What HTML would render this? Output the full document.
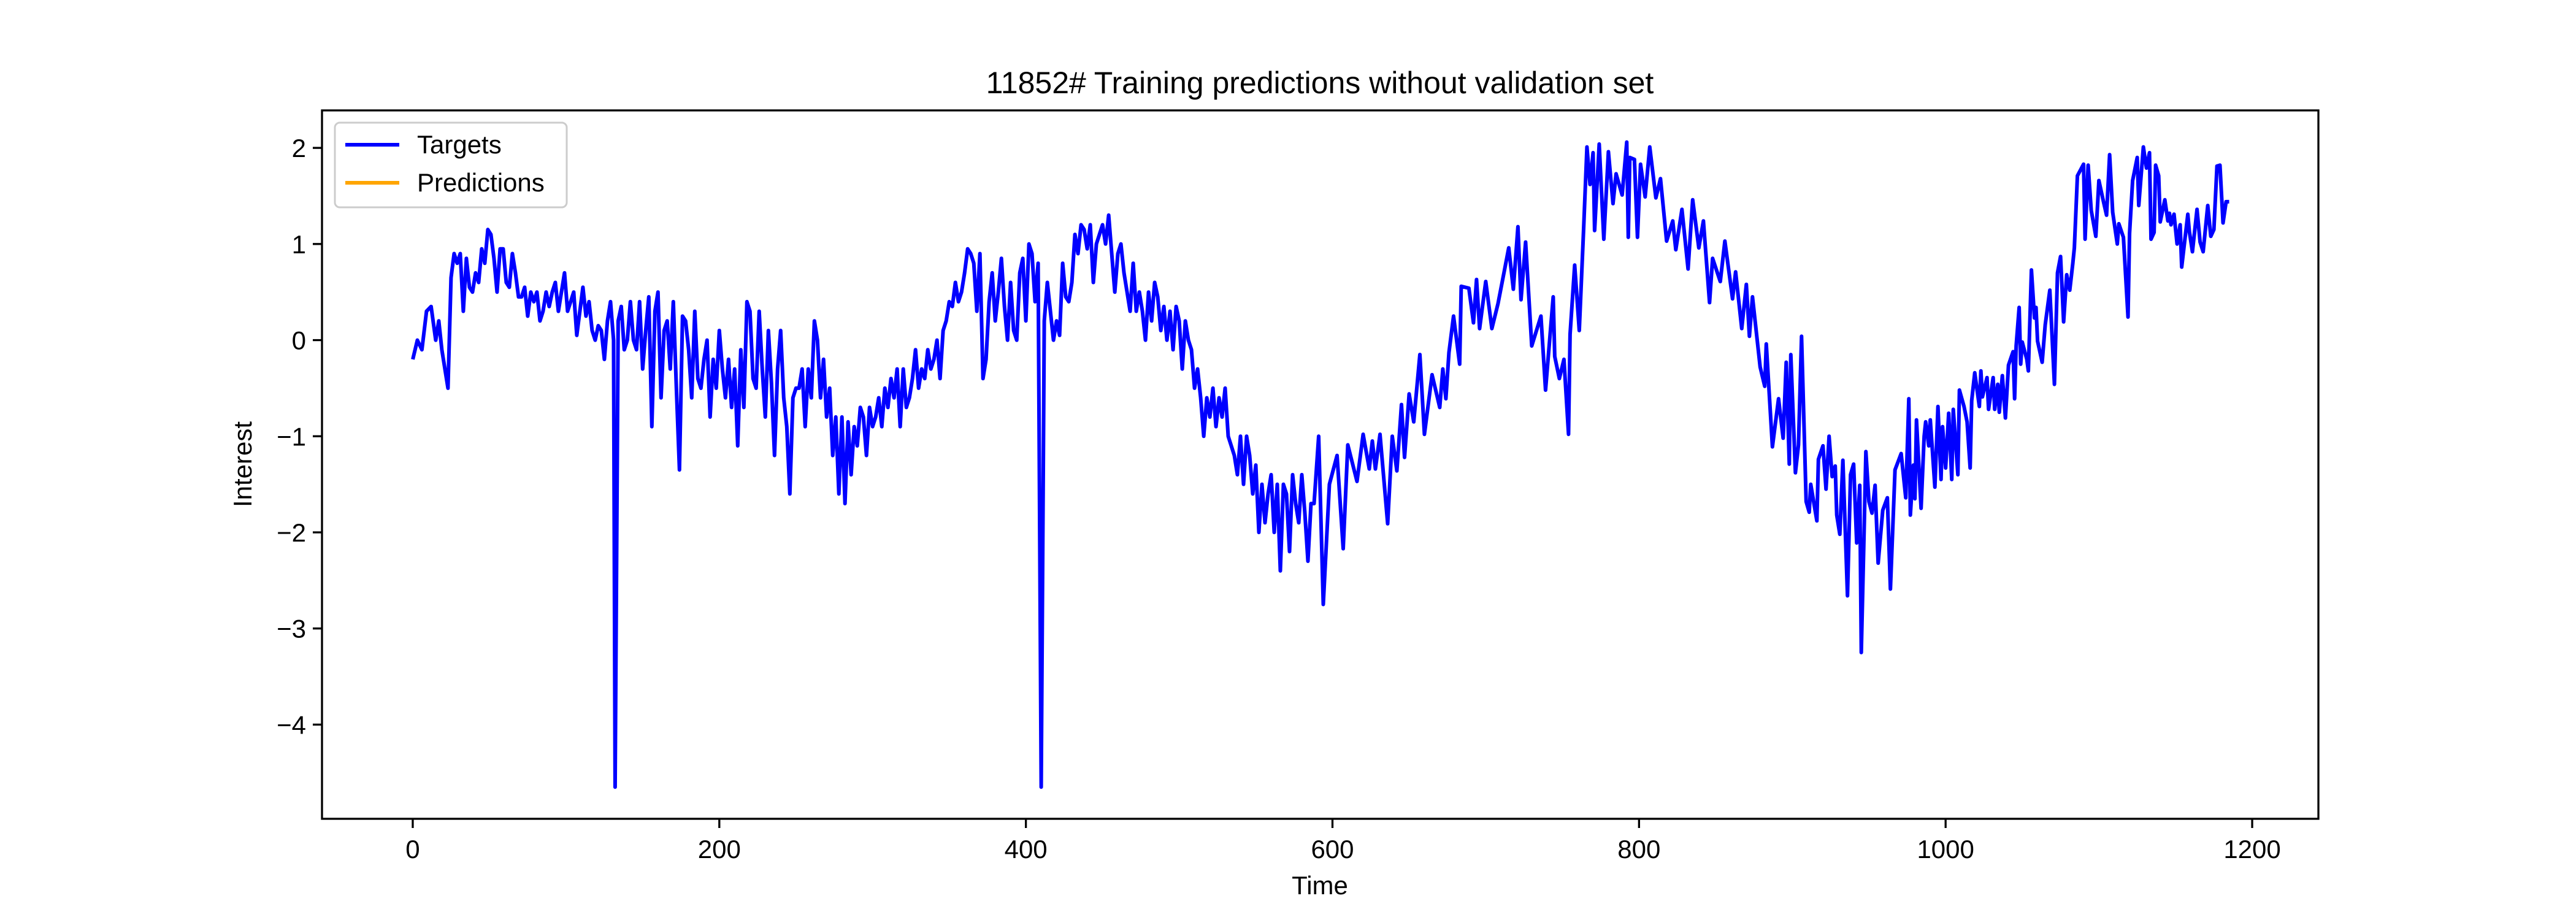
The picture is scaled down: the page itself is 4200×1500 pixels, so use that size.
<!DOCTYPE html>
<html><head><meta charset="utf-8"><style>
html,body{margin:0;padding:0;background:#fff;}
svg{display:block;font-family:"Liberation Sans","DejaVu Sans",sans-serif;}
</style></head><body>
<svg id="chart" width="4200" height="1500" viewBox="0 0 4200 1500" xmlns="http://www.w3.org/2000/svg">
<rect width="4200" height="1500" fill="#fff"/>
<text x="2152" y="152" text-anchor="middle" font-size="50" fill="#000">11852# Training predictions without validation set</text>
<g id="plot"></g>
<g id="axes"></g>
<text x="2152" y="1458" text-anchor="middle" font-size="42">Time</text>
<text transform="translate(410,757) rotate(-90)" text-anchor="middle" font-size="42">Interest</text>
<g>
<rect x="546" y="200" width="378" height="138" rx="8" fill="#fff" fill-opacity="0.8" stroke="#ccc" stroke-width="3"/>
<line x1="563" y1="236" x2="651" y2="236" stroke="#0000ff" stroke-width="6"/>
<text x="680" y="250" font-size="42">Targets</text>
<line x1="563" y1="298" x2="651" y2="298" stroke="#ffa500" stroke-width="6"/>
<text x="680" y="312" font-size="42">Predictions</text>
</g>
</svg>
<script>
const times=[0,3,6,9,12,15,17,19,21,23,25,27,29,31,33,35,37,39,41,43,45,47,49,51,53,55,57,59,61,63,65,67,69,71,73,75,77,79,81,83,85,87,89,91,93,95,97,99,101,103,105,107,109,111,113,115,117,119,121,123,125,127,129,131,132,134,136,138,140,142,144,146,148,150,152,154,156,158,160,162,164,166,168,170,172,174,176,178,180,182,184,186,188,190,192,194,196,198,200,202,204,206,208,210,212,214,216,218,220,222,224,226,228,230,232,234,236,238,240,242,244,246,248,250,252,254,256,258,260,262,264,266,268,270,272,274,276,278,280,282,284,286,288,290,292,294,296,298,300,302,304,306,308,310,312,314,316,318,320,322,324,326,328,330,332,334,336,338,340,342,344,346,348,350,352,354,356,358,360,362,364,366,368,370,372,374,376,378,380,382,384,386,388,390,392,394,396,398,400,402,404,406,408,410,412,414,416,418,420,422,424,426,428,430,432,434,436,438,440,442,444,446,448,450,452,454,456,458,460,462,464,466,468,470,472,474,476,478,480,482,484,486,488,490,492,494,496,498,500,502,504,506,508,510,512,514,516,518,520,522,524,526,528,530,532,534,536,538,540,542,544,546,548,550,552,554,556,558,560,562,564,566,568,570,572,574,576,578,580,582,584,586,588,
591,594,598,603,607,610,616,620,624,626,628,631,636,639,642,645,647,650,653,657,660,665,670,672,674,676,679,683,684,689,692,694,696,700,704,708,712,715,718,721,723,726,730,736,739,744,745,748,751,754,755,758,761,764,766,768,770,771,774,777,780,783,785,789,792,793,794,797,799,801,804,807,811,814,818,822,824,828,832,835,839,842,846,848,853,856,861,863,867,870,872,874,879,882,883,887,891,894,896,898,899,902,904,906,909,911,912,916,917,920,922,924,926,928,929,931,933,936,938,940,942,944,945,947,948,950,952,954,956,959,962,964,967,971,974,976,977,979,980,981,984,986,987,989,990,993,995,997,998,1000,1002,1004,1005,1008,1009,1012,1014,1016,1017,1019,1022,1023,1024,1027,1028,1031,1032,1034,1035,1037,1039,1041,1044,1045,1046,1048,1049,1050,1053,1054,1056,1058,1059,1060,1063,1065,1068,1071,1073,1075,1077,1079,1081,1083,1084,1086,1090,1091,1093,1095,1098,1100,1103,1105,1107,1109,1112,1113,1116,1119,1120,1122,1125,1126,1129,1131,1133,1134,1136,1137,1139,1140,1143,1145,1146,1147,1149,1151,1153,1154,1158,1159,1161,1164,1166,1168,1171,1173,1175,1177,1179,1181,1183,1185];
const targets=[-0.2,0.0,-0.1,0.3,0.35,0.0,0.2,-0.1,-0.3,-0.5,0.65,0.9,0.8,0.9,0.3,0.85,0.55,0.5,0.7,0.6,0.95,0.8,1.15,1.1,0.85,0.5,0.95,0.95,0.6,0.55,0.9,0.7,0.45,0.45,0.55,0.25,0.5,0.4,0.5,0.2,0.3,0.5,0.35,0.5,0.6,0.3,0.5,0.7,0.3,0.4,0.5,0.05,0.3,0.55,0.25,0.4,0.1,0.0,0.15,0.1,-0.2,0.2,0.4,0.0,-4.65,0.2,0.35,-0.1,0.0,0.4,0.0,-0.1,0.4,-0.3,0.1,0.45,-0.9,0.3,0.5,-0.6,0.1,0.2,-0.3,0.4,-0.5,-1.35,0.25,0.2,-0.1,-0.6,0.3,-0.4,-0.5,-0.2,0.0,-0.8,-0.2,-0.5,0.1,-0.3,-0.6,-0.2,-0.7,-0.3,-1.1,-0.1,-0.7,0.4,0.3,-0.4,-0.5,0.3,-0.3,-0.8,0.1,-0.45,-1.2,-0.3,0.1,-0.6,-0.9,-1.6,-0.6,-0.5,-0.5,-0.3,-0.9,-0.3,-0.6,0.2,0.0,-0.6,-0.2,-0.8,-0.5,-1.2,-0.8,-1.6,-0.8,-1.7,-0.85,-1.4,-0.9,-1.1,-0.7,-0.8,-1.2,-0.7,-0.9,-0.8,-0.6,-0.9,-0.5,-0.7,-0.4,-0.6,-0.3,-0.9,-0.3,-0.7,-0.6,-0.4,-0.1,-0.5,-0.3,-0.4,-0.1,-0.3,-0.2,0.0,-0.4,0.1,0.2,0.4,0.35,0.6,0.4,0.5,0.7,0.95,0.9,0.8,0.3,0.9,-0.4,-0.2,0.4,0.7,0.2,0.5,0.85,0.35,0.0,0.6,0.1,0.0,0.7,0.85,0.2,1.0,0.9,0.4,0.8,-4.65,0.2,0.6,0.3,0.0,0.2,0.05,0.8,0.45,0.4,0.6,1.1,0.9,1.2,1.15,0.95,1.2,0.6,1.0,1.1,1.2,1.0,1.3,0.9,0.5,0.9,1.0,0.7,0.5,0.3,0.8,0.3,0.5,0.3,0.0,0.5,0.2,0.6,0.45,0.1,0.35,0.0,0.3,-0.1,0.35,0.2,-0.3,0.2,0.0,-0.1,-0.5,-0.3,-0.6,-1.0,-0.6,-0.8,-0.5,-0.9,-0.6,-0.8,-0.5,-1.0,-1.1,-1.2,-1.4,-1.0,-1.5,-1.0,-1.2,-1.6,-1.3,-2.0,-1.5,-1.9,-1.6,-1.4,-2.0,-1.5,-2.4,-1.5,-1.6,-2.2,-1.4,-1.7,-1.9,-1.4,-1.8,-2.3,-1.7,-1.7,
-1.0,-2.75,-1.5,-1.2,-2.17,-1.09,-1.47,-0.98,-1.34,-1.05,-1.34,-0.98,-1.91,-1.0,-1.36,-0.67,-1.22,-0.56,-0.85,-0.15,-0.98,-0.36,-0.70,-0.30,-0.61,-0.13,0.25,-0.25,0.56,0.54,0.18,0.63,0.12,0.61,0.12,0.38,0.71,0.96,0.53,1.18,0.42,1.02,-0.06,0.25,-0.52,0.45,-0.17,-0.4,-0.2,-0.98,0.06,0.78,0.10,1.22,2.01,1.62,1.95,1.14,2.04,1.05,1.96,1.42,1.73,1.51,2.06,1.07,1.9,1.88,1.07,1.83,1.49,2.01,1.48,1.68,1.03,1.24,0.94,1.36,0.74,1.46,0.96,1.24,0.39,0.85,0.61,1.03,0.43,0.71,0.12,0.58,0.04,0.45,-0.28,-0.48,-0.04,-1.11,-0.61,-1.02,-0.23,-1.29,-0.15,-1.38,-1.09,0.04,-1.68,-1.79,-1.5,-1.88,-1.24,-1.1,-1.55,-1.0,-1.42,-1.31,-1.82,-2.02,-1.25,-2.66,-1.40,-1.29,-2.11,-1.51,-3.25,-1.88,-1.16,-1.68,-1.80,-1.51,-2.32,-1.77,-1.64,-2.59,-1.35,-1.18,-1.64,-0.61,-1.82,-1.3,-1.65,-0.83,-1.75,-1.0,-0.85,-1.1,-0.83,-1.53,-0.69,-1.45,-0.9,-1.33,-0.76,-1.45,-0.72,-1.40,-0.52,-0.69,-0.85,-1.33,-0.63,-0.34,-0.69,-0.32,-0.59,-0.39,-0.72,-0.39,-0.72,-0.46,-0.75,-0.37,-0.81,-0.26,-0.12,-0.61,-0.06,0.34,-0.25,-0.02,-0.2,-0.32,0.73,0.23,0.34,-0.01,-0.23,0.16,0.52,-0.46,0.70,0.87,0.19,0.68,0.52,0.80,0.96,1.71,1.83,1.05,1.82,1.35,1.08,1.66,1.44,1.30,1.93,1.33,1.0,1.21,1.07,0.24,1.11,1.66,1.90,1.40,2.01,1.79,1.95,1.05,1.12,1.82,1.71,1.23,1.46,1.24,1.32,1.2,1.31,1.0,1.2,0.76,1.31,1.13,0.92,1.36,1.02,0.92,1.40,1.08,1.15,1.81,1.82,1.22,1.44,1.44];
const xTicks=[0,200,400,600,800,1000,1200];
const yTicks=[-4,-3,-2,-1,0,1,2];
const yTickLabels=["\u22124","\u22123","\u22122","\u22121","0","1","2"];

const L=525,R=3780,T=180,B=1335;
const xMin=-59.2,xMax=1243.2,yMin=-4.98,yMax=2.39;
function xs(v){return L+(v-xMin)/(xMax-xMin)*(R-L);}
function ys(v){return B-(v-yMin)/(yMax-yMin)*(B-T);}
const NS="http://www.w3.org/2000/svg";
const plot=document.getElementById('plot');
const axes=document.getElementById('axes');
let d="";
for(let i=0;i<times.length;i++){d+=(i?"L":"M")+xs(times[i]).toFixed(1)+","+ys(targets[i]).toFixed(1);}
const line=document.createElementNS(NS,'path');
line.setAttribute('d',d);line.setAttribute('fill','none');line.setAttribute('stroke','#0000ff');
line.setAttribute('stroke-width','6');line.setAttribute('stroke-linejoin','round');


plot.appendChild(line);
const frame=document.createElementNS(NS,'rect');
frame.setAttribute('x',L);frame.setAttribute('y',T);frame.setAttribute('width',R-L);frame.setAttribute('height',B-T);
frame.setAttribute('fill','none');frame.setAttribute('stroke','#000');frame.setAttribute('stroke-width','3.3');


axes.appendChild(frame);
xTicks.forEach(function(t){
  const x=xs(t);
  const tk=document.createElementNS(NS,'line');
  tk.setAttribute('x1',x);tk.setAttribute('x2',x);tk.setAttribute('y1',B);tk.setAttribute('y2',B+15);
  tk.setAttribute('stroke','#000');tk.setAttribute('stroke-width','3.3');
  
  
  axes.appendChild(tk);
  const tx=document.createElementNS(NS,'text');
  tx.setAttribute('x',x);tx.setAttribute('y',B+64);tx.setAttribute('text-anchor','middle');tx.setAttribute('font-size','42');
  tx.textContent=String(t);
  
  
  axes.appendChild(tx);
});
yTicks.forEach(function(t,i){
  const y=ys(t);
  const tk=document.createElementNS(NS,'line');
  tk.setAttribute('x1',L-15);tk.setAttribute('x2',L);tk.setAttribute('y1',y);tk.setAttribute('y2',y);
  tk.setAttribute('stroke','#000');tk.setAttribute('stroke-width','3.3');
  
  
  axes.appendChild(tk);
  const tx=document.createElementNS(NS,'text');
  tx.setAttribute('x',L-26);tx.setAttribute('y',y+15);tx.setAttribute('text-anchor','end');tx.setAttribute('font-size','42');
  tx.textContent=yTickLabels[i];
  
  
  axes.appendChild(tx);
});
</script>
</body></html>
